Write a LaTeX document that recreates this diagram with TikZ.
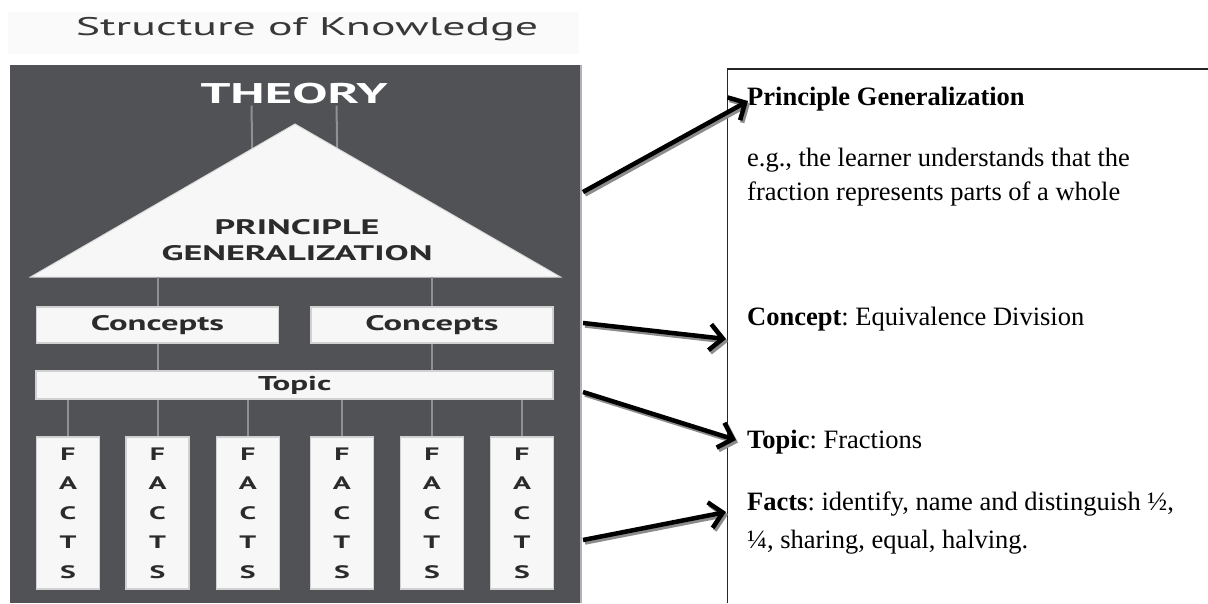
\documentclass[tikz,border=0pt]{standalone}
\usepackage{fontspec}
\usepackage{graphicx}
\setmainfont{Liberation Serif}
\newfontfamily\knowfont{PT Sans}
\usetikzlibrary{arrows.meta}
\frenchspacing

\definecolor{panelgray}{HTML}{515255}
\definecolor{linkgray}{HTML}{8F9093}
\definecolor{inkgray}{HTML}{2B2B2B}

% the knowledge picture is set wide
\newcommand{\wide}[2][1.65]{\scalebox{#1}[1]{#2}}

\tikzset{
  levelbox/.style={draw=black!18, line width=1.5pt, fill=white!97!black, inner sep=0pt,
    text=inkgray, font=\knowfont\bfseries\fontsize{21}{21}\selectfont},
  link/.style={draw=linkgray, line width=2pt},
  note/.style={inner sep=0pt, anchor=base west, align=left, font=\fontsize{26.5}{34}\selectfont},
  arr/.style={line width=4.5pt, -{Straight Barb[length=13pt,width=26pt]}},
  arrshade/.style={arr, draw=black!45, transform canvas={shift={(2pt,-2.5pt)}}},
}

\begin{document}
\begin{tikzpicture}[x=1pt,y=-1pt]
\useasboundingbox (0,0) rectangle (1208,603);

% title
\fill[black!2] (8,12) rectangle (579,54);
\node[anchor=base, inner sep=0pt, text=black!78, font=\knowfont\fontsize{25.5}{25.5}\selectfont]
  (title) at (307,35) {\wide[1.8]{Structure of Knowledge}};

% dark panel
\fill[panelgray] (9.5,65) rectangle (581,603);
\draw[black!30, line width=1.5pt] (581,65) -- (581,603);

% theory on top
\node[anchor=base, inner sep=2pt, text=white, font=\knowfont\bfseries\fontsize{28.5}{28.5}\selectfont]
  (theory) at (294,103) {\wide[1.85]{THEORY}};
\coordinate (apex) at (295,124);
\coordinate (baseL) at (30.5,277);
\coordinate (baseR) at (560.5,277);
\coordinate (legs) at (295,170);
\draw[link] ([xshift=-42.5pt]theory.south) -- ([xshift=-42.5pt]legs);
\draw[link] ([xshift=42.5pt]theory.south) -- ([xshift=42.5pt]legs);

% triangle
\filldraw[fill=white!97!black, draw=black!15, line width=1pt] (apex) -- (baseR) -- (baseL) -- cycle;
\node[align=center, text=inkgray, font=\knowfont\bfseries\fontsize{21}{26}\selectfont]
  (pg) at (297,240) {\wide[1.72]{PRINCIPLE}\\\wide[1.72]{GENERALIZATION}};

% concepts and topic
\node[levelbox, minimum width=242pt, minimum height=36pt] (conL) at (157.5,325) {\wide{Concepts}};
\node[levelbox, minimum width=242pt, minimum height=36pt] (conR) at (432,325) {\wide{Concepts}};
\node[levelbox, minimum width=517pt, minimum height=28pt, font=\knowfont\bfseries\fontsize{20}{20}\selectfont]
  (topic) at (294.7,385) {\wide{Topic}};

\draw[link] (conL.north) -- (conL.north |- baseL);
\draw[link] (conR.north) -- (conR.north |- baseL);
\draw[link] (conL.south) -- (conL.south |- topic.north);
\draw[link] (conR.south) -- (conR.south |- topic.north);

% facts
\foreach \i/\x in {1/68, 2/157.5, 3/247.8, 4/341.9, 5/431.9, 6/522} {
  \node[levelbox, minimum width=63pt, minimum height=152pt, align=center,
    font=\knowfont\bfseries\fontsize{18}{29.5}\selectfont]
    (facts\i) at (\x,513) {\wide{F}\\\wide{A}\\\wide{C}\\\wide{T}\\\wide{S}};
  \draw[link] (facts\i.north) -- (facts\i.north |- topic.south);
}

% notes on the right
\draw[black!85, line width=1.2pt] (727.5,603) -- (727.5,69) -- (1208,69);
\node[note] (pgnote) at (747,105) {\textbf{Principle Generalization}};
\node[note] (egnote) at (747,200) {e.g., the learner understands that the\\fraction represents parts of a whole};
\node[note] (connote) at (747,325) {\textbf{Concept}: Equivalence Division};
\node[note] (topicnote) at (747,448) {\textbf{Topic}: Fractions};
\node[note, font=\fontsize{26.5}{38}\selectfont] (factsnote) at (747,548)
  {\textbf{Facts}: identify, name and distinguish ½,\\¼, sharing, equal, halving.};

% arrows
\coordinate (pg-from) at (583,192);
\coordinate (pg-to) at (748,101);
\coordinate (con-from) at (583,323);
\coordinate (con-to) at (726,339);
\coordinate (topic-from) at (583,392);
\coordinate (topic-to) at (736,440);
\coordinate (facts-from) at (583,540);
\coordinate (facts-to) at (726,512);
\foreach \n in {pg,con,topic,facts} {
  \draw[arrshade] (\n-from) -- (\n-to);
  \draw[arr] (\n-from) -- (\n-to);
}
\end{tikzpicture}
\end{document}
